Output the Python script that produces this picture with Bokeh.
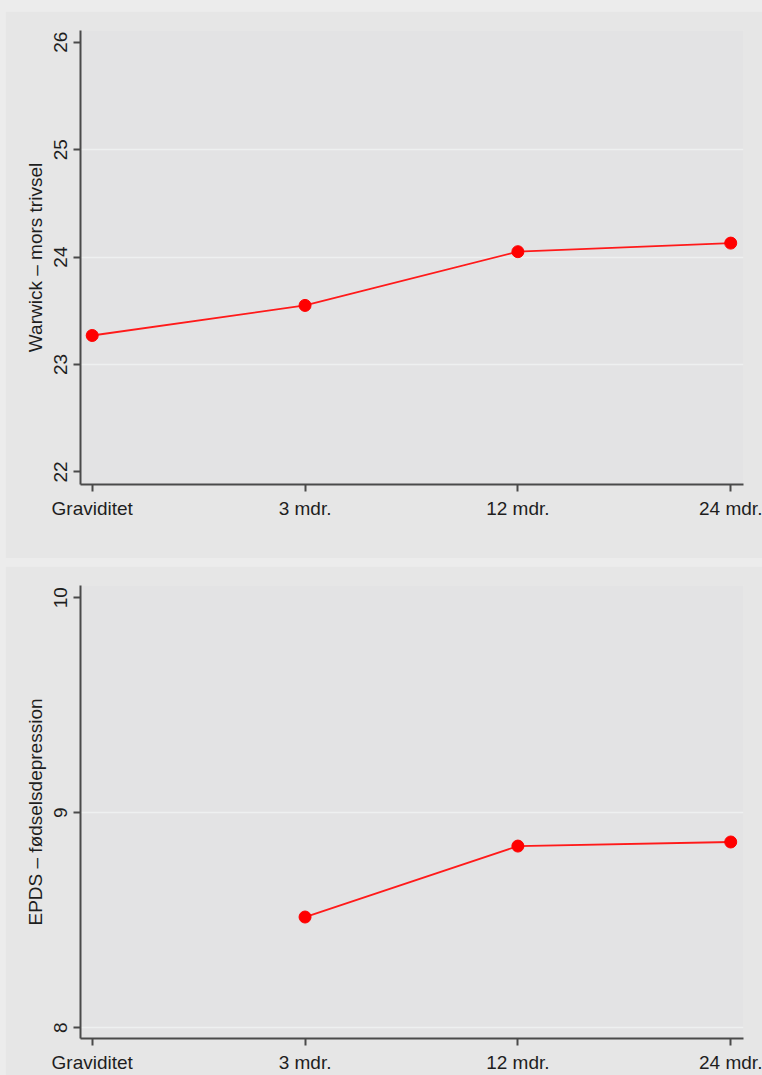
from bokeh.plotting import figure
from bokeh.layouts import column
from bokeh.models import ColumnDataSource, FixedTicker, Range1d
from bokeh.embed import file_html
from bokeh.resources import INLINE
import numpy as np

# Time points and mean scores
timepoints = ["Graviditet", "3 mdr.", "12 mdr.", "24 mdr."]
warwick_mean = [23.27, 23.55, 24.05, 24.13]
epds_mean = [np.nan, 8.515, 8.845, 8.864]

warwick_ticks = [22, 23, 24, 25, 26]
warwick_grid = [23, 24, 25]
epds_ticks = [8, 9, 10]
epds_grid = [8, 9]

FONT = "Liberation Sans"
TEXT = "#1e1e1e"
AXIS = "#4a4a4a"
PANEL = "#e6e6e6"
PLOT_BG = "#e3e3e4"
PAGE = "#ececec"


def panel(ylabel, values, yticks, ygrid, yr, height, min_bottom):
    p = figure(width=757, height=height, output_backend="svg", toolbar_location=None,
               x_range=Range1d(-0.055, 3.06), y_range=Range1d(*yr),
               min_border_left=75, min_border_right=19, min_border_top=19,
               min_border_bottom=min_bottom)
    p.background_fill_color = PLOT_BG
    p.border_fill_color = PANEL
    p.outline_line_color = None

    xs = list(range(len(timepoints)))
    src = ColumnDataSource(dict(x=xs, y=values))
    p.line("x", "y", source=src, line_color="#ff1a1a", line_width=1.8)
    p.scatter("x", "y", source=src, size=12, fill_color="#ff0000", line_color="#ff0000")

    # x axis: one tick per time point
    xa = p.xaxis[0]
    xa.ticker = FixedTicker(ticks=xs)
    xa.major_label_overrides = {i: t for i, t in enumerate(timepoints)}
    xa.minor_tick_line_color = None
    xa.major_tick_in = 0
    xa.major_tick_out = 7
    xa.major_label_standoff = 6

    # y axis
    ya = p.yaxis[0]
    ya.ticker = FixedTicker(ticks=yticks)
    ya.minor_tick_line_color = None
    ya.major_tick_in = 0
    ya.major_tick_out = 7
    ya.major_label_orientation = "vertical"
    ya.major_label_standoff = 6
    ya.axis_label = ylabel
    ya.axis_label_standoff = 6
    ya.axis_label_text_font_style = "normal"

    for ax in (xa, ya):
        ax.axis_line_color = AXIS
        ax.axis_line_width = 2
        ax.major_tick_line_color = AXIS
        ax.major_tick_line_width = 2
        ax.major_label_text_font = FONT
        ax.major_label_text_font_size = "19px"
        ax.major_label_text_color = TEXT
        ax.axis_label_text_font = FONT
        ax.axis_label_text_font_size = "19px"
        ax.axis_label_text_color = TEXT

    p.xgrid.grid_line_color = None
    p.ygrid.ticker = FixedTicker(ticks=ygrid)
    p.ygrid.grid_line_color = "#eef0f0"
    p.ygrid.grid_line_width = 1.5
    return p


top = panel("Warwick \u2013 mors trivsel", warwick_mean, warwick_ticks, warwick_grid,
            (21.883, 26.109), 547, 74)
bottom = panel("EPDS \u2013 f\u00f8dselsdepression", epds_mean, epds_ticks, epds_grid,
               (7.950, 10.057), 509, 35)

layout = column(top, bottom, spacing=8,
                styles={"background-color": PAGE, "padding": "11px 0px 0px 5px"})

open("out.html", "w").write(file_html(layout, INLINE))
